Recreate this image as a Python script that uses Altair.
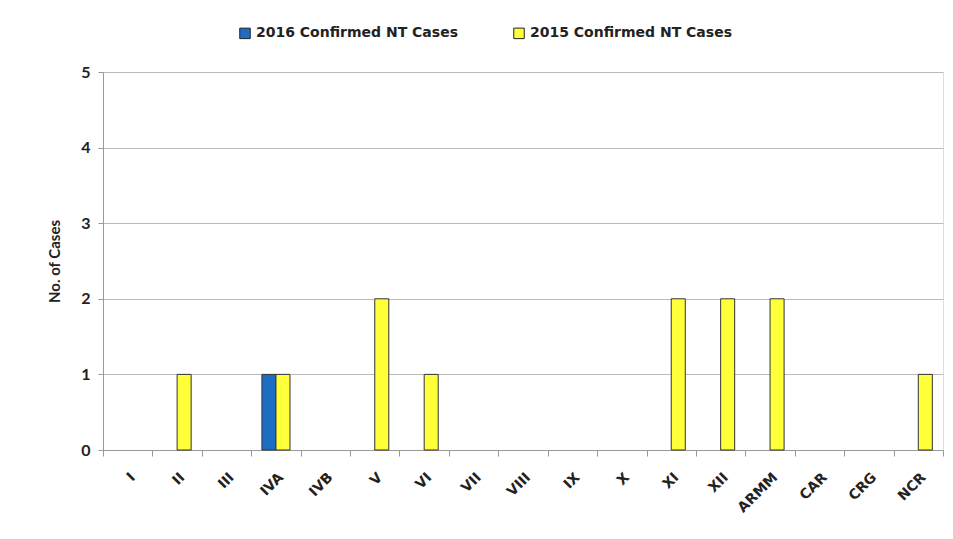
import altair as alt
import pandas as pd

regions = ["I", "II", "III", "IVA", "IVB", "V", "VI", "VII", "VIII", "IX", "X",
           "XI", "XII", "ARMM", "CAR", "CRG", "NCR"]
cases_2016 = [0, 0, 0, 1, 0, 0, 0, 0, 0, 0, 0, 0, 0, 0, 0, 0, 0]
cases_2015 = [0, 1, 0, 1, 0, 2, 1, 0, 0, 0, 0, 2, 2, 2, 0, 0, 1]
series = ["2016 Confirmed NT Cases", "2015 Confirmed NT Cases"]
colors = ["#1C6DC4", "#FFFF3A"]

rows = []
for r, a, b in zip(regions, cases_2016, cases_2015):
    rows.append({"region": r, "series": series[0], "value": a})
    rows.append({"region": r, "series": series[1], "value": b})
df = pd.DataFrame(rows)

FONT = "Lato"
WIDE = "DejaVu Sans"

chart = alt.Chart(df).transform_filter(alt.datum.value > 0).mark_bar(
    stroke="#333333", strokeWidth=1
).encode(
    x=alt.X("region:N", sort=regions,
            scale=alt.Scale(domain=regions, paddingInner=0, paddingOuter=0),
            axis=alt.Axis(title=None, labelAngle=-45, labelFontWeight="bold",
                          labelFontSize=14, labelColor="#222222", tickBand="extent",
                          domainColor="#999999", tickColor="#999999", tickSize=6,
                          labelPadding=14, grid=False, labelFont=WIDE)),
    xOffset=alt.XOffset("series:N", sort=series,
                        scale=alt.Scale(domain=series, paddingInner=0, paddingOuter=0.76)),
    y=alt.Y("value:Q", scale=alt.Scale(domain=[0, 5]),
            axis=alt.Axis(title="No. of Cases", values=[0, 1, 2, 3, 4, 5],
                          labelFontWeight="bold", labelFontSize=16, labelColor="#222222",
                          titleFontSize=15, titleFontWeight="bold", titleColor="#222222",
                          titlePadding=18, gridColor="#BBBBBB", domainColor="#999999",
                          tickColor="#999999", tickSize=5, labelPadding=8,
                          labelFont=FONT, titleFont=FONT)),
    color=alt.Color("series:N", sort=series,
                    scale=alt.Scale(domain=series, range=colors),
                    legend=alt.Legend(title=None, orient="none", direction="horizontal",
                                      legendX=135, legendY=-46, symbolType="square",
                                      symbolSize=110, symbolStrokeColor="#222222",
                                      symbolStrokeWidth=1, labelFontSize=14,
                                      labelFontWeight="bold", labelFont=WIDE,
                                      labelColor="#222222", columnPadding=53,
                                      labelLimit=400, symbolOpacity=1)),
).properties(
    width=840, height=378,
    autosize=alt.AutoSizeParams(type="none"),
    padding={"left": 95, "top": 64, "right": 2, "bottom": 80},
).configure_view(stroke=None).configure(background="white")

chart.save("out.html", embed_options={"renderer": "svg", "actions": False})
